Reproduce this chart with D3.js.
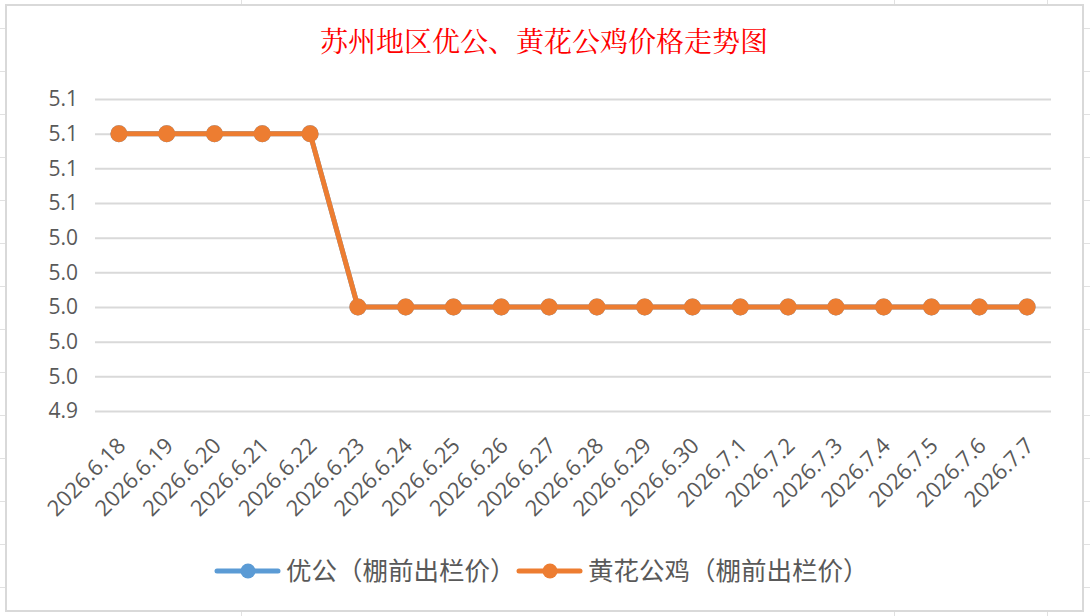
<!DOCTYPE html>
<html>
<head>
<meta charset="utf-8">
<script src="https://cdn.jsdelivr.net/npm/d3@7"></script>
<style>
  html, body { margin: 0; padding: 0; background: #fff; }
  svg { display: block; }
</style>
</head>
<body>
<svg id="chart" width="1090" height="616"></svg>
<script>
// data
const dates = ['2026.6.18', '2026.6.19', '2026.6.20', '2026.6.21', '2026.6.22', '2026.6.23',
  '2026.6.24', '2026.6.25', '2026.6.26', '2026.6.27', '2026.6.28', '2026.6.29', '2026.6.30',
  '2026.7.1', '2026.7.2', '2026.7.3', '2026.7.4', '2026.7.5', '2026.7.6', '2026.7.7']
const youGong = [5.1, 5.1, 5.1, 5.1, 5.1, 5.0, 5.0, 5.0, 5.0, 5.0, 5.0, 5.0, 5.0, 5.0, 5.0, 5.0, 5.0, 5.0, 5.0, 5.0]
const huangHua = [5.1, 5.1, 5.1, 5.1, 5.1, 5.0, 5.0, 5.0, 5.0, 5.0, 5.0, 5.0, 5.0, 5.0, 5.0, 5.0, 5.0, 5.0, 5.0, 5.0]
const yTicks = [4.94, 4.96, 4.98, 5.00, 5.02, 5.04, 5.06, 5.08, 5.10, 5.12]
const seriesNames = ['优公（棚前出栏价）', '黄花公鸡（棚前出栏价）']
const seriesColors = ['#5B9BD5', '#ED7D31']
const chartTitle = '苏州地区优公、黄花公鸡价格走势图'

const svg = d3.select('#chart')
const axisFont = '"Open Sans", "Noto Sans CJK SC", sans-serif'
const cjkFont = '"Noto Sans CJK SC", sans-serif'

// spreadsheet cell lines behind the chart
const bg = svg.append('g').attr('stroke', '#e1e1e1').attr('stroke-width', 1)
for (let k = 0; k < 14; k++) {
  const y = Math.round(28.3 + 43 * k) + 0.5
  bg.append('line').attr('x1', 0).attr('x2', 6).attr('y1', y).attr('y2', y)
  bg.append('line').attr('x1', 1084).attr('x2', 1090).attr('y1', y).attr('y2', y)
}
;[241.5, 894.5, 1047.5].forEach(x => {
  bg.append('line').attr('x1', x).attr('x2', x).attr('y1', 0).attr('y2', 5)
  bg.append('line').attr('x1', x).attr('x2', x).attr('y1', 611).attr('y2', 616)
})

// chart area border
svg.append('rect')
  .attr('x', 6).attr('y', 5)
  .attr('width', 1077).attr('height', 606)
  .attr('fill', '#fff')
  .attr('stroke', '#d9d9d9')
  .attr('stroke-width', 2)

// title
svg.append('text')
  .attr('x', 544)
  .attr('y', 52)
  .attr('text-anchor', 'middle')
  .attr('fill', '#ff0000')
  .style('font-family', '"Noto Serif CJK SC", "Noto Sans CJK SC", serif')
  .style('font-size', '28px')
  .text(chartTitle)

// scales
const plotLeft = 95, plotRight = 1051
const xScale = d3.scaleBand()
  .domain(dates)
  .range([plotLeft, plotRight])
const yScale = d3.scaleLinear()
  .domain([4.94, 5.12])
  .range([411, 99])
const cx = d => xScale(d) + xScale.bandwidth() / 2

// gridlines
svg.append('g')
  .attr('class', 'grid')
  .attr('transform', `translate(${plotLeft}, 0)`)
  .call(d3.axisLeft(yScale)
    .tickValues(yTicks)
    .tickSize(-(plotRight - plotLeft))
    .tickFormat(''))
  .call(g => g.select('.domain').remove())
  .call(g => g.selectAll('line').attr('stroke', '#d9d9d9').attr('stroke-width', 2))

// y axis labels
svg.append('g')
  .attr('transform', `translate(${plotLeft}, 0)`)
  .call(d3.axisLeft(yScale)
    .tickValues(yTicks)
    .tickSize(0)
    .tickPadding(17)
    .tickFormat(d3.format('.1f')))
  .call(g => g.select('.domain').remove())
  .call(g => g.selectAll('text')
    .attr('fill', '#595959')
    .style('font-family', axisFont)
    .style('font-size', '21px'))

// x axis labels, rotated
svg.append('g')
  .attr('transform', 'translate(0, 411)')
  .call(d3.axisBottom(xScale).tickSize(0).tickPadding(0))
  .call(g => g.select('.domain').remove())
  .call(g => g.selectAll('text')
    .attr('fill', '#595959')
    .style('font-family', axisFont)
    .style('font-size', '22px')
    .attr('text-anchor', 'end')
    .attr('dy', 0)
    .attr('transform', 'translate(8, 36) rotate(-45)'))

// lines and markers
const series = [youGong, huangHua]
const line = d3.line()
  .x((d, i) => cx(dates[i]))
  .y(d => yScale(d))

series.forEach((values, s) => {
  svg.append('path')
    .datum(values)
    .attr('fill', 'none')
    .attr('stroke', seriesColors[s])
    .attr('stroke-width', 5)
    .attr('stroke-linejoin', 'round')
    .attr('d', line)
  svg.append('g')
    .selectAll('circle')
    .data(values)
    .enter()
    .append('circle')
    .attr('cx', (d, i) => cx(dates[i]))
    .attr('cy', d => yScale(d))
    .attr('r', 8.5)
    .attr('fill', seriesColors[s])
})

// legend
const legendItems = [
  { x: 217, name: seriesNames[0], color: seriesColors[0] },
  { x: 519, name: seriesNames[1], color: seriesColors[1] }
]
const legend = svg.append('g').attr('transform', 'translate(0, 571)')
legendItems.forEach(item => {
  legend.append('line')
    .attr('x1', item.x).attr('x2', item.x + 61)
    .attr('y1', 0).attr('y2', 0)
    .attr('stroke', item.color)
    .attr('stroke-width', 5)
    .attr('stroke-linecap', 'round')
  legend.append('circle')
    .attr('cx', item.x + 31).attr('cy', 0)
    .attr('r', 7.5)
    .attr('fill', item.color)
  legend.append('text')
    .attr('x', item.x + 69)
    .attr('y', 9)
    .attr('fill', '#595959')
    .style('font-family', cjkFont)
    .style('font-size', '25.5px')
    .text(item.name)
})
</script>
</body>
</html>
